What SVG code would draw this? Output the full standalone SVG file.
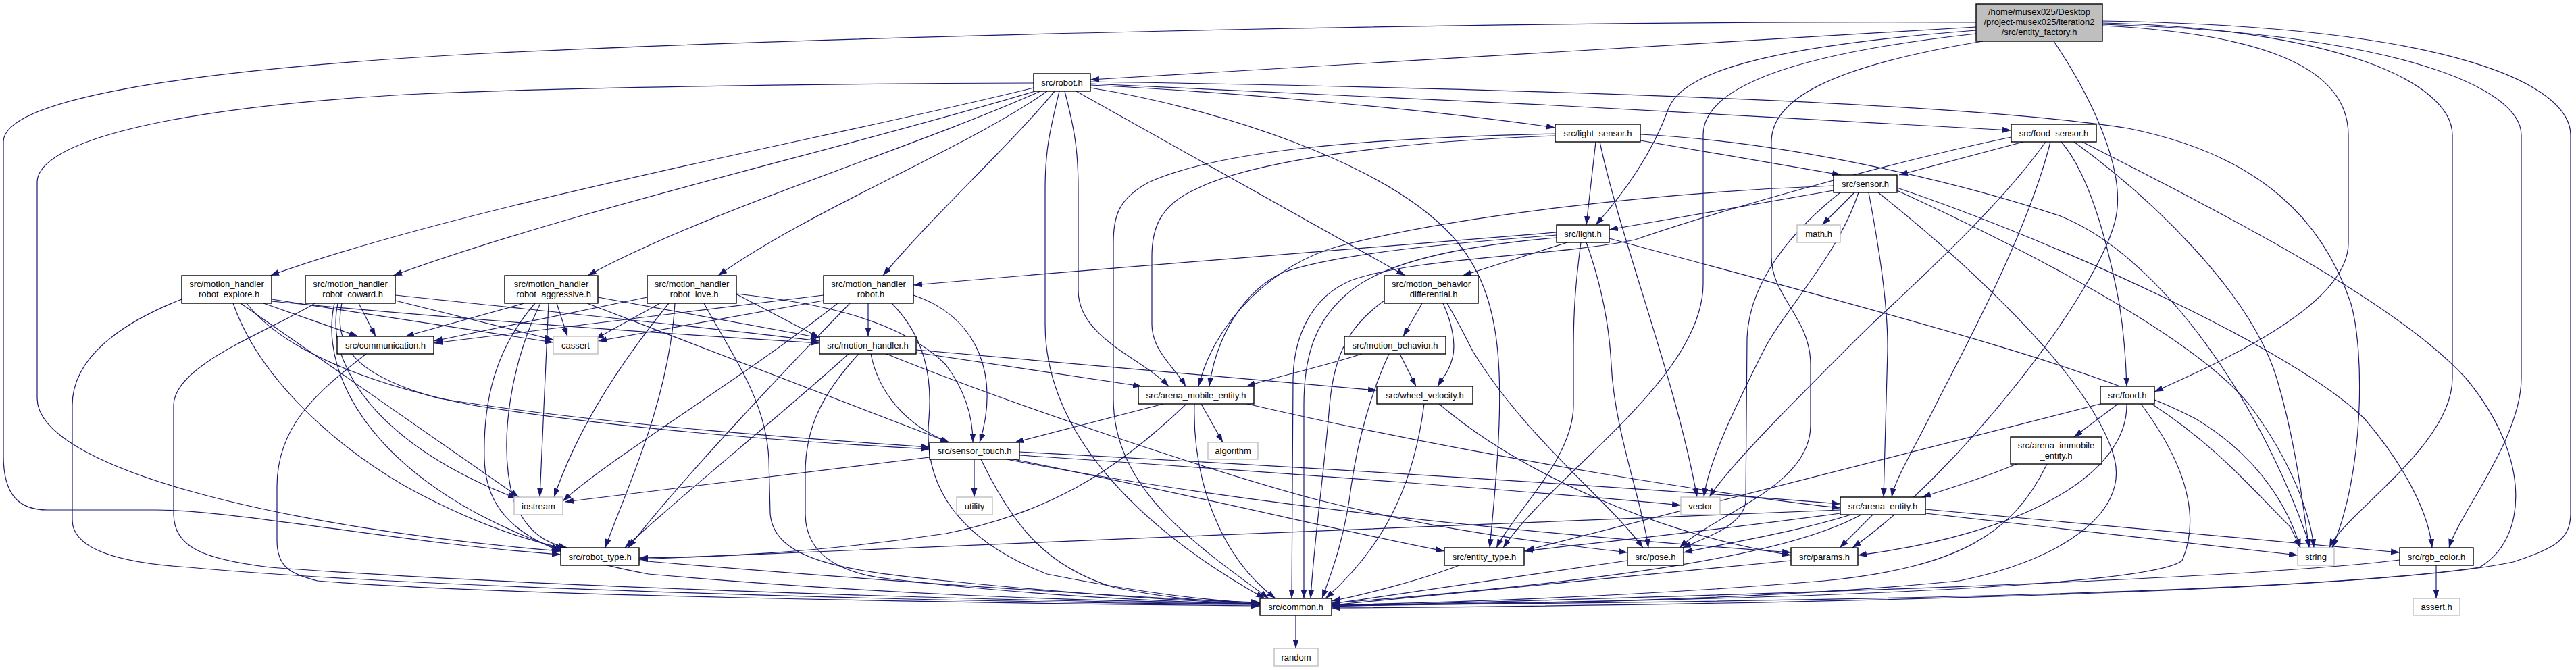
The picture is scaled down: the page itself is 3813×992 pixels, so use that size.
<svg xmlns="http://www.w3.org/2000/svg" width="3813" height="992" viewBox="0 0 3813 992">
<style>
.e{fill:none;stroke:#191970;stroke-width:1.2;marker-end:url(#ah)}
.n rect{fill:#ffffff;stroke:#000000;stroke-width:1.4}
.g rect{fill:#ffffff;stroke:#bfbfbf;stroke-width:1.4}
.r rect{fill:#bfbfbf;stroke:#000000;stroke-width:1.4}
text{font-family:"Liberation Sans",Arial,sans-serif;font-size:13px;fill:#000000;text-anchor:middle}
</style>
<defs>
<marker id="ah" viewBox="0 0 13 9" refX="13" refY="4.5" markerWidth="13" markerHeight="9" markerUnits="userSpaceOnUse" orient="auto">
<path d="M0,0 L13,4.5 L0,9 z" fill="#191970"/>
</marker>
</defs>
<rect width="3813" height="992" fill="#ffffff"/>
<g id="edges">
<!-- entity_factory -->
<path class="e" d="M2925,33 C2200,30 1200,55 700,80 C250,105 5,150 5,210 L5,675 C5,735 30,755 70,755 L230,755 C350,755 600,805 830,821"/>
<path class="e" d="M2925,40 L1614,118"/>
<path class="e" d="M2925,45 C2600,70 2490,110 2470,160 C2445,230 2400,290 2362,333"/>
<path class="e" d="M2925,50 C2650,80 2521,130 2521,200 L2521,420 C2521,560 2300,700 2225,811"/>
<path class="e" d="M2935,61 C2700,100 2622,150 2622,210 L2622,380 C2622,440 2680,470 2680,540 L2680,630 C2680,720 2540,760 2486,811"/>
<path class="e" d="M3112,38 C3350,50 3476,100 3476,200 L3476,360 C3476,450 3300,530 3189,580"/>
<path class="e" d="M3112,34 C3450,42 3630,120 3630,200 L3630,560 C3630,660 3470,760 3448,811"/>
<path class="e" d="M3112,36 C3550,50 3732,130 3732,200 L3732,560 C3732,650 3640,760 3625,811"/>
<path class="e" d="M3112,31 C3650,40 3805,130 3805,200 L3805,760 C3805,800 3780,812 3720,832 C3500,880 2500,897 1971,900"/>
<path class="e" d="M3040,61 C3100,150 3150,260 3130,330 C3100,440 2900,700 2742,811"/>
<!-- robot -->
<path class="e" d="M1530,123 C1200,124 800,130 600,140 C250,160 55,210 55,270 L55,590 C55,690 400,780 830,816"/>
<path class="e" d="M1530,130 C1250,200 700,300 400,408"/>
<path class="e" d="M1532,135 C1250,220 850,310 582,408"/>
<path class="e" d="M1540,135 C1350,220 1050,310 870,408"/>
<path class="e" d="M1550,135 C1430,220 1200,310 1063,408"/>
<path class="e" d="M1561,135 C1500,210 1380,320 1307,408"/>
<path class="e" d="M1568,135 C1555,190 1547,220 1547,280 L1547,480 C1547,650 1700,790 1872,886"/>
<path class="e" d="M1576,135 C1590,190 1596,220 1596,280 L1596,430 C1596,500 1690,530 1730,572"/>
<path class="e" d="M1593,135 L2080,408"/>
<path class="e" d="M1614,130 C1800,160 2050,240 2150,350 C2230,440 2230,560 2205,811"/>
<path class="e" d="M1614,126 C1800,135 2100,160 2302,189"/>
<path class="e" d="M1614,124 C2000,140 2600,170 2977,193"/>
<path class="e" d="M1614,121 C2200,130 2900,150 3150,190 C3350,230 3440,330 3480,450 C3500,520 3500,700 3452,811"/>
<!-- light_sensor -->
<path class="e" d="M2428,208 L2725,259"/>
<path class="e" d="M2362,210 L2348,333"/>
<path class="e" d="M2368,210 C2400,360 2480,560 2512,736"/>
<path class="e" d="M2302,198 C2000,205 1800,225 1700,270 C1655,295 1648,320 1648,360 L1648,590 C1648,720 1760,800 1878,886"/>
<path class="e" d="M2302,201 C2050,210 1850,240 1770,280 C1715,305 1705,340 1705,380 L1705,480 C1705,520 1740,545 1755,572"/>
<path class="e" d="M2428,199 C2650,210 2900,270 3050,320 C3200,380 3350,600 3420,811"/>
<!-- food_sensor -->
<path class="e" d="M2995,210 L2811,259"/>
<path class="e" d="M3051,210 C3090,255 3118,350 3137,450 C3145,500 3147,540 3148,572"/>
<path class="e" d="M3028,210 C2950,320 2800,450 2750,500 C2650,600 2560,690 2530,736"/>
<path class="e" d="M3035,210 C3000,350 2900,530 2860,610 C2830,670 2805,710 2800,736"/>
<path class="e" d="M3070,210 C3180,290 3330,430 3370,560 C3400,660 3410,760 3418,811"/>
<path class="e" d="M3082,210 C3300,320 3550,450 3650,560 C3750,680 3740,800 3670,840 C3400,880 2600,892 1971,896"/>
<path class="e" d="M2977,203 C2800,240 2550,310 2420,355 C2300,380 2100,380 2000,415 C1940,440 1915,500 1914,560 L1912,886"/>
<!-- sensor -->
<path class="e" d="M2714,282 L2382,340"/>
<path class="e" d="M2745,285 L2697,333"/>
<path class="e" d="M2751,285 C2720,380 2640,460 2610,520 C2570,600 2530,680 2522,736"/>
<path class="e" d="M2766,285 C2780,360 2795,450 2794,520 L2788,736"/>
<path class="e" d="M2724,285 C2680,320 2590,400 2586,500 L2584,740 C2584,775 2530,795 2490,811"/>
<path class="e" d="M2714,275 C2450,285 2150,320 1980,365 C1890,390 1800,470 1774,572"/>
<path class="e" d="M2808,282 C3000,370 3250,500 3330,600 C3390,680 3420,760 3425,811"/>
<path class="e" d="M2808,278 C3050,360 3400,520 3500,620 C3560,690 3595,760 3600,811"/>
<path class="e" d="M2780,285 C2900,380 3100,560 3130,680 C3150,760 3050,830 2900,860 C2600,890 2200,895 1971,897"/>
<!-- light -->
<path class="e" d="M2304,344 C2100,360 1700,392 1352,422"/>
<path class="e" d="M2320,359 L2165,408"/>
<path class="e" d="M2304,348 C2150,360 1980,375 1900,403 C1840,430 1800,500 1790,572"/>
<path class="e" d="M2304,352 C2150,365 2050,390 2000,430 C1950,470 1930,520 1930,600 L1930,886"/>
<path class="e" d="M2340,359 C2332,420 2329,460 2329,520 L2329,600 C2329,680 2240,760 2215,811"/>
<path class="e" d="M2348,359 C2370,420 2382,480 2385,540 C2390,640 2430,740 2440,811"/>
<path class="e" d="M2382,353 C2700,440 3100,540 3250,620 C3350,680 3390,760 3405,811"/>
<!-- motion_behavior_differential -->
<path class="e" d="M2105,449 L2077,498"/>
<path class="e" d="M2136,449 C2150,480 2155,510 2150,530 C2145,550 2135,560 2128,572"/>
<path class="e" d="M2142,449 C2160,480 2170,500 2180,520 C2260,650 2380,740 2432,811"/>
<path class="e" d="M2049,445 C2000,480 1975,520 1968,600 C1960,700 1945,800 1940,886"/>
<!-- motion_behavior -->
<path class="e" d="M2016,524 C1950,545 1880,560 1845,572"/>
<path class="e" d="M2072,524 L2096,572"/>
<path class="e" d="M2056,524 C2030,580 2010,650 2000,720 C1990,800 1970,850 1957,886"/>
<!-- wheel_velocity -->
<path class="e" d="M2108,598 C2095,700 2060,800 1962,886"/>
<path class="e" d="M2130,598 C2250,700 2450,790 2651,822"/>
<!-- communication -->
<path class="e" d="M542,524 C470,580 410,630 410,720 L410,800 C410,840 430,850 470,860 C700,880 1400,893 1865,897"/>
<!-- explore -->
<path class="e" d="M390,449 L530,498"/>
<path class="e" d="M402,443 L819,507"/>
<path class="e" d="M402,446 C700,475 1000,495 1213,508"/>
<path class="e" d="M269,443 C200,470 107,520 107,600 L107,770 C107,820 200,835 280,840 C600,870 1400,892 1865,895"/>
<path class="e" d="M345,449 C380,550 480,650 600,720 C700,775 780,800 835,812"/>
<path class="e" d="M356,449 L768,736"/>
<path class="e" d="M365,449 C420,520 550,570 700,600 C950,640 1200,655 1376,665"/>
<!-- coward -->
<path class="e" d="M531,449 L556,498"/>
<path class="e" d="M585,445 L819,503"/>
<path class="e" d="M585,437 C800,460 1050,485 1213,505"/>
<path class="e" d="M466,449 C400,490 257,540 257,600 L257,760 C257,810 300,828 400,840 C800,870 1500,890 1865,895"/>
<path class="e" d="M495,449 C470,560 560,720 830,814"/>
<path class="e" d="M500,449 C480,540 560,660 765,738"/>
<path class="e" d="M506,449 C490,520 540,560 650,590 C900,630 1200,650 1376,662"/>
<!-- aggressive -->
<path class="e" d="M776,449 L600,498"/>
<path class="e" d="M824,449 L840,498"/>
<path class="e" d="M885,440 L1213,500"/>
<path class="e" d="M792,449 C730,520 715,600 717,680 C720,780 800,820 960,850 C1300,880 1600,890 1865,894"/>
<path class="e" d="M800,449 C760,530 735,650 760,740 C780,790 810,805 840,811"/>
<path class="e" d="M812,449 L799,736"/>
<path class="e" d="M869,449 L1405,655"/>
<!-- love -->
<path class="e" d="M958,440 L642,505"/>
<path class="e" d="M977,449 L881,502"/>
<path class="e" d="M1089,435 L1213,500"/>
<path class="e" d="M990,449 C900,560 850,650 820,736"/>
<path class="e" d="M999,449 C990,600 920,740 896,811"/>
<path class="e" d="M1090,435 C1200,447 1330,470 1400,540 C1430,580 1440,620 1440,655"/>
<path class="e" d="M1042,449 C1080,520 1134,590 1138,680 L1140,760 C1145,830 1250,845 1400,860 C1600,880 1750,890 1865,894"/>
<!-- motion_handler_robot -->
<path class="e" d="M1219,437 L642,508"/>
<path class="e" d="M1219,445 L885,505"/>
<path class="e" d="M1285,449 L1285,498"/>
<path class="e" d="M1352,437 C1450,470 1480,560 1450,655"/>
<path class="e" d="M1320,449 C1370,500 1380,560 1375,620 C1365,720 1420,800 1550,850 C1700,880 1800,890 1865,893"/>
<path class="e" d="M1258,449 C1150,560 1000,720 930,811"/>
<path class="e" d="M1240,449 C1100,560 900,680 833,742"/>
<!-- motion_handler -->
<path class="e" d="M1356,518 L2038,578"/>
<path class="e" d="M1356,522 L1690,572"/>
<path class="e" d="M1289,524 C1300,580 1340,630 1405,655"/>
<path class="e" d="M1312,524 C1500,600 1800,700 1950,740 C2150,790 2300,805 2409,818"/>
<path class="e" d="M1256,524 C1150,620 1000,740 925,811"/>
<path class="e" d="M1271,524 C1220,580 1192,630 1192,700 L1192,760 C1192,820 1240,845 1300,855 C1500,880 1700,890 1865,895"/>
<!-- arena_mobile_entity -->
<path class="e" d="M1722,598 L1502,655"/>
<path class="e" d="M1778,598 L1810,655"/>
<path class="e" d="M1756,598 C1650,700 1550,760 1400,790 C1200,820 1050,825 946,826"/>
<path class="e" d="M1768,598 C1765,700 1800,820 1888,886"/>
<path class="e" d="M1846,598 C2200,680 2600,740 2724,752"/>
<!-- sensor_touch -->
<path class="e" d="M1442,680 L1442,736"/>
<path class="e" d="M1376,677 L836,743"/>
<path class="e" d="M1452,680 C1500,780 1550,840 1650,870 C1750,890 1800,890 1865,892"/>
<path class="e" d="M1509,669 C1900,690 2400,720 2724,746"/>
<path class="e" d="M1509,674 C1900,700 2300,730 2488,748"/>
<path class="e" d="M1500,680 C1800,740 2000,790 2138,816"/>
<path class="e" d="M1490,680 C1900,760 2400,800 2651,818"/>
<!-- arena_entity -->
<path class="e" d="M2724,755 C2300,770 1500,805 946,828"/>
<path class="e" d="M2724,760 C2500,790 2350,805 2256,816"/>
<path class="e" d="M2740,762 C2650,790 2550,805 2492,818"/>
<path class="e" d="M2772,762 L2723,811"/>
<path class="e" d="M2755,762 C2650,820 2400,860 1971,893"/>
<path class="e" d="M2850,760 L3401,822"/>
<path class="e" d="M2850,754 L3552,818"/>
<!-- arena_immobile_entity -->
<path class="e" d="M2985,687 C2930,710 2880,725 2845,736"/>
<path class="e" d="M3030,687 C2980,790 2900,840 2700,860 C2400,885 2100,893 1971,896"/>
<!-- food -->
<path class="e" d="M3109,598 L2258,815"/>
<path class="e" d="M3135,598 L3070,647"/>
<path class="e" d="M3148,598 C3150,700 3000,790 2750,822"/>
<path class="e" d="M3169,598 C3230,680 3260,760 3230,830 C3180,870 2600,890 1971,896"/>
<path class="e" d="M3185,598 C3280,660 3330,720 3390,780 L3405,811"/>
<!-- leaves -->
<path class="e" d="M2160,837 C2100,860 2020,880 1971,890"/>
<path class="e" d="M2409,830 L1971,894"/>
<path class="e" d="M2651,830 L1971,896"/>
<path class="e" d="M3552,829 C3300,860 2600,880 1971,898"/>
<path class="e" d="M3606,837 L3606,886"/>
<path class="e" d="M1918,911 L1918,960"/>
<path class="e" d="M946,830 C1300,860 1600,880 1865,893"/>
</g>
<g id="n-entity_factory" class="r"><rect x="2925" y="6" width="187" height="55"/><text x="3018.5" y="21.5">/home/musex025/Desktop</text><text x="3018.5" y="36.5">/project-musex025/iteration2</text><text x="3018.5" y="51.5">/src/entity_factory.h</text></g>
<g id="n-robot" class="n"><rect x="1530" y="109" width="84" height="26"/><text x="1572" y="126.5">src/robot.h</text></g>
<g id="n-light_sensor" class="n"><rect x="2302" y="184" width="126" height="26"/><text x="2365" y="201.5">src/light_sensor.h</text></g>
<g id="n-food_sensor" class="n"><rect x="2977" y="184" width="126" height="26"/><text x="3040" y="201.5">src/food_sensor.h</text></g>
<g id="n-sensor" class="n"><rect x="2714" y="259" width="94" height="26"/><text x="2761" y="276.5">src/sensor.h</text></g>
<g id="n-light" class="n"><rect x="2304" y="333" width="78" height="26"/><text x="2343" y="350.5">src/light.h</text></g>
<g id="n-math" class="g"><rect x="2660" y="333" width="64" height="26"/><text x="2692" y="350.5">math.h</text></g>
<g id="n-explore" class="n"><rect x="269" y="408" width="133" height="41"/><text x="335.5" y="425">src/motion_handler</text><text x="335.5" y="440">_robot_explore.h</text></g>
<g id="n-coward" class="n"><rect x="452" y="408" width="133" height="41"/><text x="518.5" y="425">src/motion_handler</text><text x="518.5" y="440">_robot_coward.h</text></g>
<g id="n-aggressive" class="n"><rect x="747" y="408" width="138" height="41"/><text x="816" y="425">src/motion_handler</text><text x="816" y="440">_robot_aggressive.h</text></g>
<g id="n-love" class="n"><rect x="958" y="408" width="132" height="41"/><text x="1024" y="425">src/motion_handler</text><text x="1024" y="440">_robot_love.h</text></g>
<g id="n-motion_handler_robot" class="n"><rect x="1219" y="408" width="133" height="41"/><text x="1285.5" y="425">src/motion_handler</text><text x="1285.5" y="440">_robot.h</text></g>
<g id="n-motion_behavior_differential" class="n"><rect x="2049" y="408" width="139" height="41"/><text x="2118.5" y="425">src/motion_behavior</text><text x="2118.5" y="440">_differential.h</text></g>
<g id="n-communication" class="n"><rect x="499" y="498" width="143" height="26"/><text x="570.5" y="515.5">src/communication.h</text></g>
<g id="n-cassert" class="g"><rect x="819" y="498" width="66" height="26"/><text x="852" y="515.5">cassert</text></g>
<g id="n-motion_handler" class="n"><rect x="1213" y="498" width="143" height="26"/><text x="1284.5" y="515.5">src/motion_handler.h</text></g>
<g id="n-motion_behavior" class="n"><rect x="1990" y="498" width="150" height="26"/><text x="2065" y="515.5">src/motion_behavior.h</text></g>
<g id="n-arena_mobile_entity" class="n"><rect x="1685" y="572" width="171" height="26"/><text x="1770.5" y="589.5">src/arena_mobile_entity.h</text></g>
<g id="n-wheel_velocity" class="n"><rect x="2038" y="572" width="142" height="26"/><text x="2109" y="589.5">src/wheel_velocity.h</text></g>
<g id="n-food" class="n"><rect x="3109" y="572" width="80" height="26"/><text x="3149" y="589.5">src/food.h</text></g>
<g id="n-arena_immobile_entity" class="n"><rect x="2976" y="647" width="135" height="40"/><text x="3043.5" y="663.5">src/arena_immobile</text><text x="3043.5" y="678.5">_entity.h</text></g>
<g id="n-sensor_touch" class="n"><rect x="1376" y="655" width="133" height="25"/><text x="1442.5" y="672">src/sensor_touch.h</text></g>
<g id="n-algorithm" class="g"><rect x="1788" y="655" width="74" height="25"/><text x="1825" y="672">algorithm</text></g>
<g id="n-iostream" class="g"><rect x="761" y="736" width="72" height="26"/><text x="797" y="753.5">iostream</text></g>
<g id="n-utility" class="g"><rect x="1416" y="736" width="53" height="26"/><text x="1442.5" y="753.5">utility</text></g>
<g id="n-vector" class="g"><rect x="2488" y="736" width="58" height="26"/><text x="2517" y="753.5">vector</text></g>
<g id="n-arena_entity" class="n"><rect x="2724" y="736" width="126" height="26"/><text x="2787" y="753.5">src/arena_entity.h</text></g>
<g id="n-robot_type" class="n"><rect x="830" y="811" width="116" height="26"/><text x="888" y="828.5">src/robot_type.h</text></g>
<g id="n-entity_type" class="n"><rect x="2138" y="811" width="118" height="26"/><text x="2197" y="828.5">src/entity_type.h</text></g>
<g id="n-pose" class="n"><rect x="2409" y="811" width="83" height="26"/><text x="2450.5" y="828.5">src/pose.h</text></g>
<g id="n-params" class="n"><rect x="2651" y="811" width="99" height="26"/><text x="2700.5" y="828.5">src/params.h</text></g>
<g id="n-string" class="g"><rect x="3401" y="811" width="54" height="26"/><text x="3428" y="828.5">string</text></g>
<g id="n-rgb_color" class="n"><rect x="3552" y="811" width="109" height="26"/><text x="3606.5" y="828.5">src/rgb_color.h</text></g>
<g id="n-common" class="n"><rect x="1865" y="886" width="106" height="25"/><text x="1918" y="903">src/common.h</text></g>
<g id="n-random" class="g"><rect x="1886" y="960" width="65" height="26"/><text x="1918.5" y="977.5">random</text></g>
<g id="n-assert" class="g"><rect x="3572" y="886" width="69" height="25"/><text x="3606.5" y="903">assert.h</text></g>
</svg>
